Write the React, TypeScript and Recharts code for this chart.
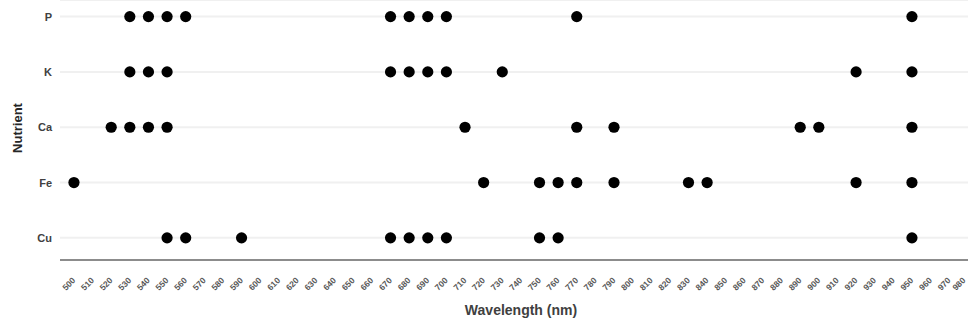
import React from 'react';
import { ScatterChart, Scatter, XAxis, YAxis, CartesianGrid, Label } from 'recharts';

// Nutrient rows, top to bottom
const nutrients = ['P', 'K', 'Ca', 'Fe', 'Cu'];

// Selected wavelengths (nm) for each nutrient
const pWavelengths = [530, 540, 550, 560, 670, 680, 690, 700, 770, 950];
const kWavelengths = [530, 540, 550, 670, 680, 690, 700, 730, 920, 950];
const caWavelengths = [520, 530, 540, 550, 710, 770, 790, 890, 900, 950];
const feWavelengths = [500, 720, 750, 760, 770, 790, 830, 840, 920, 950];
const cuWavelengths = [550, 560, 590, 670, 680, 690, 700, 750, 760, 950];

// Wavelength tick labels, 500–980 nm every 10 nm
const wavelengthTicks = [
  500, 510, 520, 530, 540, 550, 560, 570, 580, 590, 600, 610, 620, 630, 640, 650,
  660, 670, 680, 690, 700, 710, 720, 730, 740, 750, 760, 770, 780, 790, 800, 810,
  820, 830, 840, 850, 860, 870, 880, 890, 900, 910, 920, 930, 940, 950, 960, 970, 980,
];

const seriesWavelengths = [pWavelengths, kWavelengths, caWavelengths, feWavelengths, cuWavelengths];

// Row position: P at the top (5) down to Cu (1)
const rowValue = (i: number) => nutrients.length - i;
const rowTicks = nutrients.map((_, i) => rowValue(i));

const CHART_W = 968;
const CHART_H = 329;
const FONT = '"Liberation Sans", Arial, sans-serif';

const Dot = (props: any) => {
  const { cx, cy } = props;
  if (cx == null || cy == null) return null;
  return <circle cx={cx} cy={cy} r={5.6} fill="#000" />;
};

const WavelengthTick = (props: any) => {
  const { x, y, payload } = props;
  // keep the last label inside the chart's right edge
  const ax = Math.min(x + 2, CHART_W - 2);
  const ay = y + 13;
  return (
    <text
      x={ax}
      y={ay}
      transform={`rotate(-45, ${ax}, ${ay})`}
      textAnchor="end"
      fontFamily={FONT}
      fontWeight="bold"
      fontSize={8.5}
      fill="#595959"
    >
      {payload.value}
    </text>
  );
};

const NutrientTick = (props: any) => {
  const { y, payload } = props;
  const idx = nutrients.length - payload.value;
  return (
    <text
      x={52}
      y={y}
      dy={4}
      textAnchor="end"
      fontFamily={FONT}
      fontWeight="bold"
      fontSize={11}
      fill="#404040"
    >
      {nutrients[idx]}
    </text>
  );
};

export default function App() {
  return (
    <div style={{ position: 'absolute', left: 0, top: 0, width: CHART_W, height: CHART_H, overflow: 'hidden', background: '#fff' }}>
      <ScatterChart width={CHART_W} height={CHART_H} margin={{ top: 0, right: 0, bottom: 0, left: 0 }}>
        <CartesianGrid horizontal vertical={false} stroke="#f0f0f0" strokeWidth={2} />
        <XAxis
          type="number"
          dataKey="x"
          domain={[492.5, 980.1]}
          ticks={wavelengthTicks}
          interval={0}
          allowDataOverflow
          height={69}
          axisLine={{ stroke: '#8c8c8c', strokeWidth: 2 }}
          tickLine={false}
          tick={<WavelengthTick />}
        >
          <Label
            content={() => (
              <text
                x={521}
                y={315}
                textAnchor="middle"
                fontFamily={FONT}
                fontWeight="bold"
                fontSize={14}
                fill="#404040"
              >
                Wavelength (nm)
              </text>
            )}
          />
        </XAxis>
        <YAxis
          type="number"
          dataKey="y"
          domain={[0.6, 5.3]}
          ticks={rowTicks}
          interval={0}
          width={60}
          axisLine={false}
          tickLine={false}
          tick={<NutrientTick />}
        >
          <Label
            content={() => (
              <text
                x={22}
                y={128}
                transform="rotate(-90, 22, 128)"
                textAnchor="middle"
                fontFamily={FONT}
                fontWeight="bold"
                fontSize={13}
                fill="#262626"
              >
                Nutrient
              </text>
            )}
          />
        </YAxis>
        {seriesWavelengths.map((wls, i) => (
          <Scatter
            key={nutrients[i]}
            name={nutrients[i]}
            data={wls.map((w) => ({ x: w, y: rowValue(i) }))}
            fill="#000"
            shape={<Dot />}
            isAnimationActive={false}
          />
        ))}
      </ScatterChart>
    </div>
  );
}
